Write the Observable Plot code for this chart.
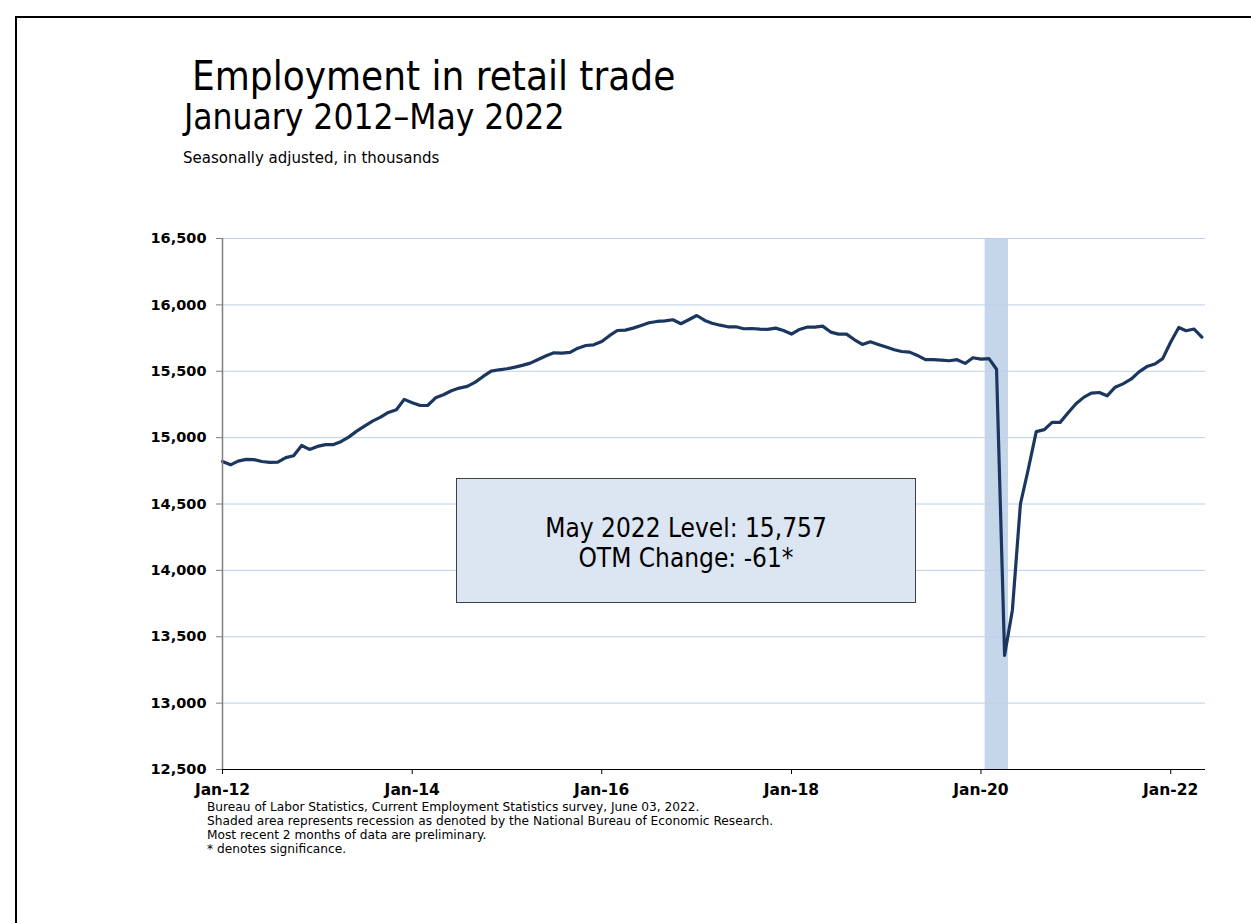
<!DOCTYPE html>
<html>
<head>
<meta charset="utf-8">
<script src="https://cdn.jsdelivr.net/npm/d3@7"></script>
<script src="https://cdn.jsdelivr.net/npm/@observablehq/plot@0.6"></script>
<style>
  html, body { margin:0; padding:0; background:#fff; }
  body { width:1251px; height:923px; position:relative; overflow:hidden;
         font-family:"DejaVu Sans Condensed","Liberation Sans Narrow","DejaVu Sans",sans-serif; color:#000; }
  #frame { position:absolute; left:15px; top:16px; width:1300px; height:1000px; border:2px solid #000; box-sizing:border-box; }
  .t { position:absolute; white-space:nowrap; }
  #title { left:192px; top:53px; font-size:40px; }
  #subtitle { left:184px; top:97px; font-size:35px; }
  #units { left:183px; top:149px; font-size:15px; font-family:"DejaVu Sans",sans-serif; }
  #chart { position:absolute; left:0; top:200px; }
  #box { position:absolute; left:456px; top:478px; width:460px; height:125px; box-sizing:border-box;
         background:#dce6f2; border:1px solid #404040; display:flex; flex-direction:column;
         justify-content:center; align-items:center; font-size:26px; line-height:30px; padding-top:4px; }
  #notes { left:207px; top:800px; font-size:12.2px; line-height:14px; font-family:"DejaVu Sans",sans-serif; }
</style>
</head>
<body>
<div id="frame"></div>
<div class="t" id="title">Employment in retail trade</div>
<div class="t" id="subtitle">January 2012–May 2022</div>
<div class="t" id="units">Seasonally adjusted, in thousands</div>
<div id="chart"></div>
<div id="box"><div id="boxLine1"></div><div id="boxLine2"></div></div>
<div class="t" id="notes"></div>
<script>
// ---- data ----
const startMonth = "2012-01-01";
const values2012 = [14820,14795,14823,14836,14834,14820,14813,14815,14849,14864,14941,14911];
const values2013 = [14934,14947,14947,14969,15004,15049,15087,15124,15154,15190,15210,15288];
const values2014 = [15263,15242,15242,15300,15323,15353,15373,15386,15418,15461,15501,15511];
const values2015 = [15519,15531,15544,15561,15589,15617,15639,15636,15642,15674,15694,15699];
const values2016 = [15724,15770,15807,15810,15825,15845,15865,15875,15880,15888,15858,15888];
const values2017 = [15920,15883,15862,15847,15835,15835,15820,15822,15817,15815,15825,15807];
const values2018 = [15780,15815,15832,15832,15840,15795,15780,15780,15737,15702,15722,15702];
const values2019 = [15682,15662,15649,15644,15619,15587,15587,15584,15579,15587,15559,15602];
const values2020 = [15591,15595,15515,13360,13700,14500,14760,15045,15060,15115,15115,15185];
const values2021 = [15255,15305,15335,15340,15315,15380,15405,15440,15495,15535,15555,15595];
const values2022 = [15720,15830,15805,15818,15757];
const recession = { start: "2020-02-01", end: "2020-04-01" };
const yTicks = [12500,13000,13500,14000,14500,15000,15500,16000,16500];
const xTickYears = ["2012-01-01","2014-01-01","2016-01-01","2018-01-01","2020-01-01","2022-01-01"];
const annotationLines = ["May 2022 Level: 15,757", "OTM Change: -61*"];
const notes = [
  "Bureau of Labor Statistics, Current Employment Statistics survey, June 03, 2022.",
  "Shaded area represents recession as denoted by the National Bureau of Economic Research.",
  "Most recent 2 months of data are preliminary.",
  "* denotes significance."
];

// ---- build table ----
const allValues = [].concat(values2012,values2013,values2014,values2015,values2016,values2017,
  values2018,values2019,values2020,values2021,values2022);
const t0 = new Date(startMonth);
const data = allValues.map((v,i) => ({ date: d3.utcMonth.offset(t0, i), value: v }));
const lastDate = data[data.length-1].date;
const xDomain = [t0, d3.utcDay.offset(lastDate, 14)];
const recRect = [{ x1: d3.utcDay.offset(new Date(recession.start), -15), x2: d3.utcDay.offset(new Date(recession.end), 15) }];
const xTicks = xTickYears.map(s => new Date(s));

document.getElementById("boxLine1").textContent = annotationLines[0];
document.getElementById("boxLine2").textContent = annotationLines[1];
document.getElementById("notes").innerHTML = notes.map(s => s.replace(/&/g,"&amp;")).join("<br>");

const axisFont = '"DejaVu Sans",sans-serif';
const chart = Plot.plot({
  width: 1251,
  height: 610,
  marginLeft: 222,
  marginRight: 46,
  marginTop: 38,
  marginBottom: 41,
  style: { fontFamily: axisFont, fontSize: "15px", color: "#000", background: "transparent" },
  x: { type: "utc", domain: xDomain },
  y: { domain: [12500, 16500] },
  marks: [
    Plot.rect(recRect, { x1: "x1", x2: "x2", fill: "#c6d6ea" }),
    Plot.gridY(yTicks.slice(1), { stroke: "#bcd0ea", strokeOpacity: 1, strokeWidth: 1 }),
    Plot.line(data, { x: "date", y: "value", stroke: "#1b3760", strokeWidth: 3.2, strokeLinejoin: "round" }),
    Plot.ruleX([xDomain[0]], { stroke: "#7f7f7f", strokeWidth: 1.5 }),
    Plot.ruleY([12500], { stroke: "#000", strokeWidth: 1 }),
    Plot.axisY(yTicks, { tickSize: 6, tickPadding: 10, tickFormat: d3.format(","), fontWeight: "bold", fontSize: 14.5, stroke: "#7f7f7f", label: null }),
    Plot.axisX(xTicks, { tickSize: 5, tickPadding: 9, tickFormat: d3.utcFormat("%b-%y"), fontWeight: "bold", fontSize: 15.5, stroke: "#000", label: null })
  ]
});
document.getElementById("chart").appendChild(chart);
</script>
</body>
</html>
